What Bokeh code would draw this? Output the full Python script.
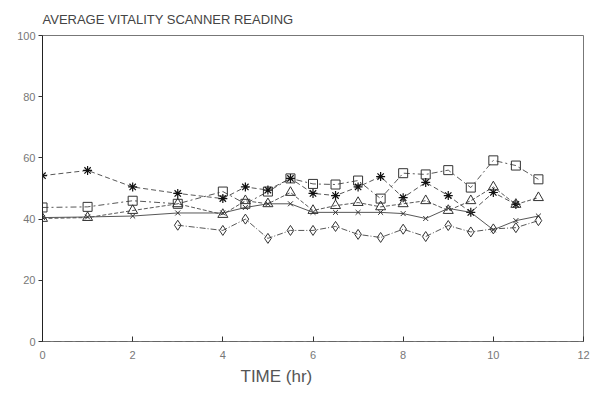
from bokeh.plotting import figure
from bokeh.embed import file_html
from bokeh.resources import INLINE
from bokeh.models import FixedTicker, Title

# ---- data ----
t_full = [0, 1, 2, 3, 4, 4.5, 5, 5.5, 6, 6.5, 7, 7.5, 8, 8.5, 9, 9.5, 10, 10.5, 11]
square_vals = [43.8, 44.0, 46.0, 45.0, 49.0, 45.0, 49.0, 53.3, 51.5, 51.3, 52.6, 46.7,
               55.0, 54.6, 56.0, 50.3, 59.2, 57.5, 53.0]
t_ast = [0, 1, 2, 3, 4, 4.5, 5, 5.5, 6, 6.5, 7, 7.5, 8, 8.5, 9, 9.5, 10, 10.5]
asterisk_vals = [54.2, 55.9, 50.5, 48.4, 46.7, 50.5, 49.5, 53.3, 48.4, 47.7, 50.5, 53.9,
                 47.0, 52.0, 47.7, 42.2, 48.7, 44.8]
triangle_vals = [40.2, 40.5, 42.8, 45.0, 41.5, 46.0, 45.0, 48.7, 42.8, 44.4, 45.4, 44.0,
                 45.0, 46.0, 42.8, 46.0, 50.5, 44.8, 47.0]
x_vals = [40.5, 40.7, 41.0, 42.0, 42.0, 43.8, 45.0, 45.0, 42.2, 42.2, 42.2, 42.2,
          41.8, 40.2, 43.5, 42.2, 36.5, 39.5, 41.0]
t_dia = [3, 4, 4.5, 5, 5.5, 6, 6.5, 7, 7.5, 8, 8.5, 9, 9.5, 10, 10.5, 11]
diamond_vals = [38.0, 36.3, 40.0, 33.7, 36.3, 36.3, 37.6, 35.0, 34.0, 36.7, 34.3, 37.9,
                35.8, 36.8, 37.2, 39.5]

x_ticks = [0, 2, 4, 6, 8, 10, 12]
y_ticks = [0, 20, 40, 60, 80, 100]
title_text = "AVERAGE VITALITY SCANNER READING"
x_label_text = "TIME (hr)"

p = figure(width=592, height=400, x_range=(0, 12), y_range=(0, 100),
           output_backend="svg", toolbar_location=None,
           min_border_left=42, min_border_right=9, min_border_top=35,
           min_border_bottom=59)
p.background_fill_color = "white"
p.border_fill_color = "white"
p.xgrid.visible = False
p.ygrid.visible = False
p.outline_line_color = "#777777"
p.outline_line_width = 1

p.title.text = title_text
p.title.text_font = "Liberation Sans"
p.title.text_font_size = "13px"
p.title.text_font_style = "normal"
p.title.text_color = "#444444"
p.title.align = "left"
p.title.standoff = 17

font = "Liberation Sans"
for ax in (p.xaxis[0], p.yaxis[0]):
    ax.major_label_text_font = font
    ax.major_label_text_font_size = "11px"
    ax.major_label_text_color = "#777777"
    ax.minor_tick_line_color = None
    ax.major_tick_line_color = "#333333"

p.xaxis.ticker = FixedTicker(ticks=x_ticks)
p.yaxis.ticker = FixedTicker(ticks=y_ticks)
p.xaxis.major_tick_in = 5
p.xaxis.major_tick_out = 0
p.xaxis.major_label_standoff = 9
p.xaxis.axis_line_color = "#666666"
p.xaxis.axis_line_dash = "8 3"

p.yaxis.major_tick_in = 0
p.yaxis.major_tick_out = 4
p.yaxis.major_label_standoff = 3
p.yaxis.axis_line_color = "#222222"

# x-axis title sits left of centre in the reference
p.add_layout(Title(text=x_label_text, align="left", offset=198, standoff=6,
                   text_font=font, text_font_size="17px", text_font_style="normal",
                   text_color="#555555"), "below")

lc = "#444444"
# squares: dash-dot
p.line(t_full, square_vals, line_color=lc, line_width=0.9, line_dash="6 3 2 3")
p.scatter(t_full, square_vals, marker="square", size=9, line_color="#333333",
          fill_alpha=0, line_width=1)
# asterisks: dashed
p.line(t_ast, asterisk_vals, line_color=lc, line_width=0.9, line_dash="5 3")
p.scatter(t_ast, asterisk_vals, marker="asterisk", size=9, line_color="#111111",
          line_width=1.2)
# triangles: dash
p.line(t_full, triangle_vals, line_color=lc, line_width=0.9, line_dash="4 2")
p.scatter(t_full, triangle_vals, marker="triangle", size=10, line_color="#333333",
          fill_alpha=0, line_width=1)
# x: solid
p.line(t_full, x_vals, line_color=lc, line_width=0.9)
p.scatter(t_full, x_vals, marker="x", size=7, line_color="#333333", line_width=1)
# diamonds: dash-dot
p.line(t_dia, diamond_vals, line_color=lc, line_width=0.9, line_dash="6 2 1 2")
p.scatter(t_dia, diamond_vals, marker="diamond", size=10, line_color="#333333",
          fill_alpha=0, line_width=1)

open("out.html", "w").write(file_html(p, INLINE))
